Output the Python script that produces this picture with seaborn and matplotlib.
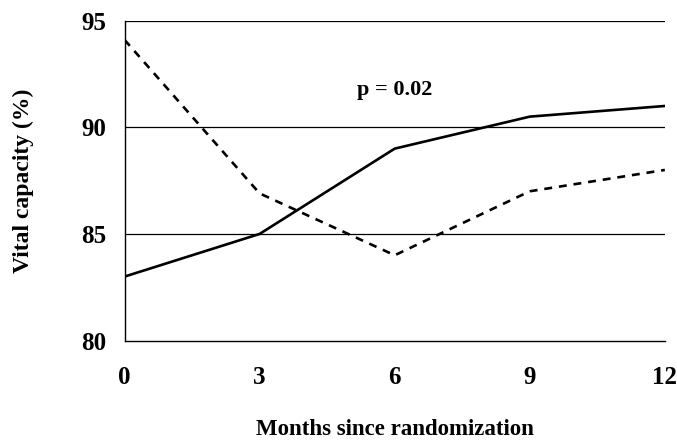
# VITAL CAPACITY OVER TIME
# ------------------------------------------------------------

import pandas as pd
import matplotlib.pyplot as plt
import seaborn as sns

# DATA ------------------------------------------------------

months = [0, 3, 6, 9, 12]
solid_group = [83.0, 85.0, 89.0, 90.5, 91.0]
dashed_group = [94.1, 86.9, 84.0, 87.0, 88.0]
y_ticks = [80, 85, 90, 95]
annotation = 'p = 0.02'

# EXECUTION -------------------------------------------------

sns.set_style('white')
plt.rcParams['font.family'] = ['Liberation Serif', 'DejaVu Serif']
plt.rcParams['font.weight'] = 'bold'
plt.rcParams['text.color'] = 'black'
plt.rcParams['axes.labelcolor'] = 'black'

df = pd.DataFrame({
    'month': months * 2,
    'value': solid_group + dashed_group,
    'group': ['solid'] * len(months) + ['dashed'] * len(months),
})

fig = plt.figure(figsize=(6.77, 4.40), dpi=100)
ax = fig.add_axes([0.184, 0.226, 0.798, 0.727])

# Horizontal reference lines
for yv in y_ticks[1:]:
    ax.axhline(yv, color='black', lw=0.9, zorder=1)

sns.lineplot(
    data=df, x='month', y='value', style='group',
    style_order=['solid', 'dashed'],
    dashes={'solid': '', 'dashed': (3, 2.6)},
    color='black', lw=1.9, legend=False, ax=ax, zorder=3
)

ax.set_xlim(0, 12)
ax.set_ylim(80, 95)
ax.set_xticks(months)
ax.set_yticks(y_ticks)
ax.tick_params(axis='both', labelsize=18, length=5, width=1, direction='out',
               colors='black', pad=8)
ax.tick_params(axis='x', pad=13)
for lbl in ax.get_xticklabels() + ax.get_yticklabels():
    lbl.set_fontweight('bold')

for side in ['top', 'right']:
    ax.spines[side].set_visible(False)
for side in ['left', 'bottom']:
    ax.spines[side].set_color('black')
    ax.spines[side].set_linewidth(1.0)

ax.set_xlabel('Months since randomization', fontsize=16.5, fontweight='bold',
              labelpad=22, color='black')
ax.set_ylabel('Vital capacity (%)', fontsize=17, fontweight='bold',
              labelpad=34, color='black')

ax.text(6, 91.75, annotation, ha='center', va='center', fontsize=16,
        fontweight='bold', color='black')

fig.savefig('out.png', dpi=100)
